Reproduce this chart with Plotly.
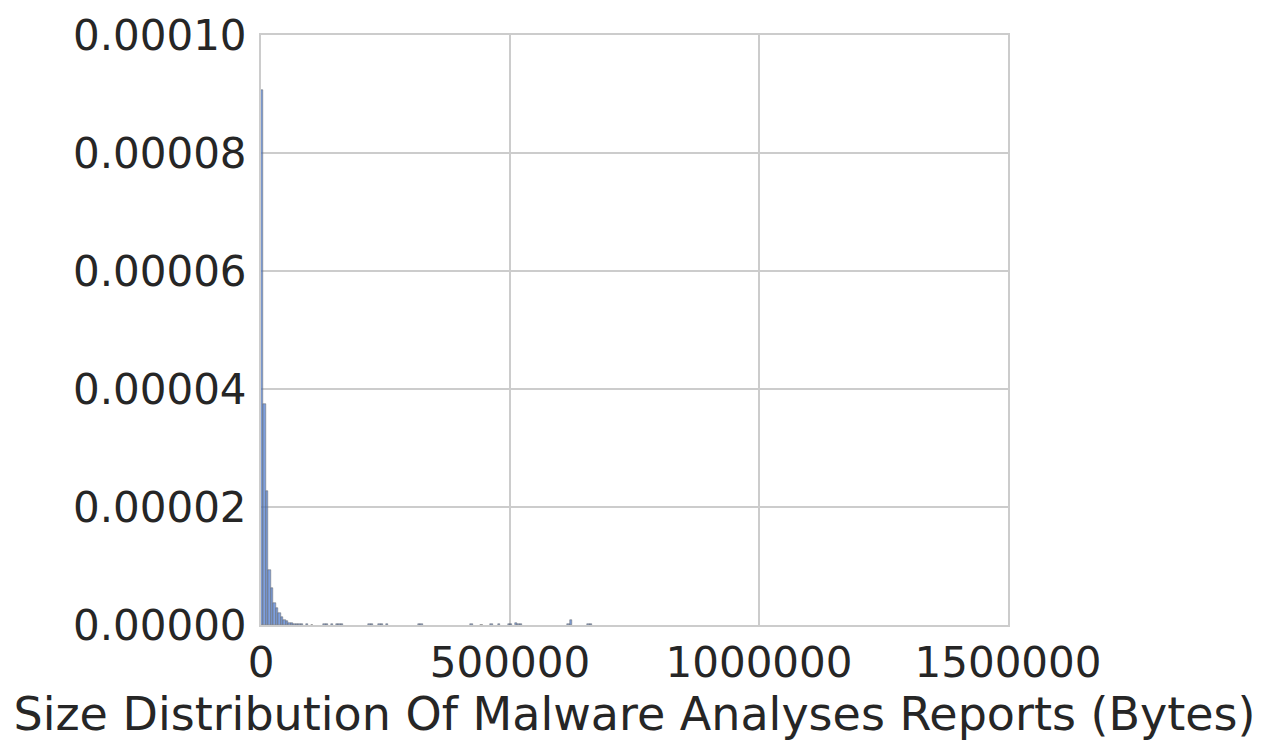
import plotly.graph_objects as go

# Histogram (density) of report sizes, bin width in bytes
bin_width = 5000
bin_start = [0, 5000, 10000, 15000, 20000, 25000, 30000, 35000, 40000, 45000,
             50000, 55000, 60000, 65000, 70000, 75000, 80000, 90000, 100000,
             125000, 130000, 140000, 150000, 155000, 160000, 215000, 220000,
             235000, 240000, 250000, 315000, 320000, 420000, 440000, 460000,
             475000, 495000, 500000, 510000, 515000, 520000, 615000, 620000,
             655000, 660000]
density = [9.07e-5, 3.75e-5, 2.27e-5, 9.3e-6, 6.2e-6, 3.7e-6, 2.9e-6, 2.0e-6,
           1.4e-6, 8.5e-7, 6.0e-7, 4.0e-7, 3.0e-7, 2.2e-7, 1.7e-7, 1.2e-7,
           1.0e-7, 1.0e-7, 8e-8, 1.2e-7, 1.5e-7, 1.2e-7, 2.2e-7, 1.5e-7,
           1.0e-7, 2.0e-7, 2.0e-7, 1.5e-7, 1.5e-7, 1.0e-7, 2.5e-7, 1.5e-7,
           1.0e-7, 8e-8, 1.0e-7, 1.2e-7, 2.0e-7, 2.5e-7, 3.0e-7, 2.0e-7,
           1.5e-7, 1.0e-7, 8.5e-7, 1.0e-7, 2.5e-7]

x_ticks = [0, 500000, 1000000, 1500000]
y_ticks = [0, 0.00002, 0.00004, 0.00006, 0.00008, 0.0001]
x_title = "Size Distribution Of Malware Analyses Reports (Bytes)"

centers = [s + bin_width / 2 for s in bin_start]

fig = go.Figure(go.Bar(
    x=centers, y=density, width=[bin_width] * len(centers),
    marker=dict(color="rgba(72,120,207,0.7)", line=dict(color="#666666", width=0.5)),
))

font = dict(family="DejaVu Sans", size=42, color="#262626")
fig.update_layout(
    width=1271, height=751,
    margin=dict(l=261, r=263, t=35, b=126),
    paper_bgcolor="white", plot_bgcolor="white",
    font=font, showlegend=False, bargap=0,
)
fig.update_xaxes(
    range=[0, 1500000], tickvals=x_ticks, ticktext=[str(v) for v in x_ticks],
    showgrid=True, gridcolor="#cccccc", gridwidth=2,
    showline=True, linecolor="#cccccc", linewidth=2, mirror=True,
    zeroline=False, ticks="", ticklabelstandoff=0,
    title=dict(text=x_title, font=dict(family="DejaVu Sans", size=46, color="#262626"),
               standoff=5),
)
fig.update_yaxes(
    range=[0, 0.0001], tickvals=y_ticks, ticktext=[f"{v:.5f}" for v in y_ticks],
    showgrid=True, gridcolor="#cccccc", gridwidth=2,
    showline=True, linecolor="#cccccc", linewidth=2, mirror=True,
    zeroline=False, ticks="", ticklabelstandoff=4,
)

fig.write_html("out.html")
